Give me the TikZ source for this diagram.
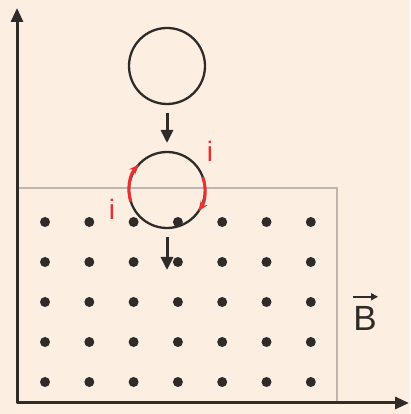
\documentclass[tikz,border=0pt]{standalone}
\usepackage{fontspec}
\setmainfont{Liberation Sans}
\usetikzlibrary{positioning,arrows.meta}
\definecolor{paper}{HTML}{FDEEE2}
\definecolor{ink}{HTML}{2F2B29}
\definecolor{current}{HTML}{E8302F}
\definecolor{edge}{HTML}{BDB5AE}

\begin{document}
\begin{tikzpicture}[x=1pt, y=1pt, node distance=48pt,
    ring/.style={circle, draw=ink, line width=2.3pt, minimum size=76pt, inner sep=0pt, outer sep=0pt},
    dot/.style={circle, fill=ink, minimum size=10pt, inner sep=0pt},
    axis/.style={draw=ink, line width=3pt, -{Triangle[length=14pt,width=12pt]}},
    move/.style={draw=ink, line width=3pt, -{Triangle[length=13pt,width=12pt]}},
    flow/.style={draw=current, line width=3pt, -{Stealth[length=10pt,width=8pt]}},
    lbl/.style={text=current, font=\fontsize{28}{30}\selectfont, inner sep=0pt}]
      \fill[paper] (0,0) rectangle (410,414);
      \useasboundingbox (0,0) rectangle (410,414);

      % field region
      \draw[edge, line width=2.3pt] (17,11) rectangle (337,226);
      \foreach \row in {0,...,4}
        \foreach \col in {0,...,6}
          \node[dot] (d\row\col) at ({45+44.3*\col}, {192-40*\row}) {};

      % axes
      \coordinate (o) at (17,11);
      \coordinate (ytip) at (17,406);
      \coordinate (xtip) at (409,11);
      \draw[axis] (o) -- (ytip);
      \draw[axis] (o) -- (xtip);

      % loop falling into the field
      \node[ring] (ring1) at (167,348) {};
      \node[ring] (ring2) [below=48pt of ring1] {};
      \draw[move] ([yshift=-9pt]ring1.south) -- ([yshift=9pt]ring2.north);
      \coordinate (down) at ([yshift=-42pt]ring2.south);
      \draw[move] ([yshift=-9pt]ring2.south) -- (down);

      % induced current
      \draw[flow] ([shift={(198:38pt)}]ring2.center) arc[start angle=198, end angle=138, radius=38pt];
      \draw[flow] ([shift={(20:38pt)}]ring2.center) arc[start angle=20, end angle=-34, radius=38pt];
      \node[lbl] (iright) at (210,263) {i};
      \node[lbl] (ileft) at (112,205) {i};

      % field label
      \node[text=ink, font=\fontsize{35}{37}\selectfont, inner sep=0pt] (bfield) at (365,96) {B};
      \draw[draw=ink, line width=2.3pt, -{Triangle[length=7pt,width=7pt]}] ([xshift=-12pt,yshift=9pt]bfield.north) -- ([xshift=13pt,yshift=9pt]bfield.north);
    \end{tikzpicture}
\end{document}
